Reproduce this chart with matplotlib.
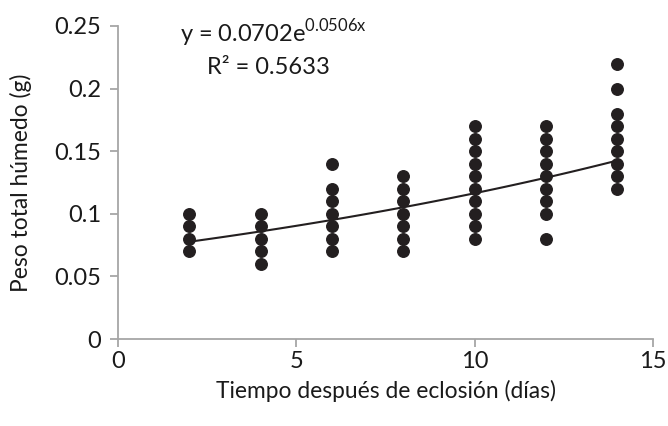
import matplotlib
matplotlib.use("Agg")
import matplotlib.pyplot as plt
import numpy as np

# dias despues de eclosion y peso humedo (g) por dia
dias = [2, 4, 6, 8, 10, 12, 14]
peso = [
    [0.07, 0.08, 0.09, 0.10],
    [0.06, 0.07, 0.08, 0.09, 0.10],
    [0.07, 0.08, 0.09, 0.10, 0.11, 0.12, 0.14],
    [0.07, 0.08, 0.09, 0.10, 0.11, 0.12, 0.13],
    [0.08, 0.09, 0.10, 0.11, 0.12, 0.13, 0.14, 0.15, 0.16, 0.17],
    [0.08, 0.10, 0.11, 0.12, 0.13, 0.14, 0.15, 0.16, 0.17],
    [0.12, 0.13, 0.14, 0.15, 0.16, 0.17, 0.18, 0.20, 0.22],
]
a, b = 0.0702, 0.0506

plt.rcParams['font.family'] = ['Lato', 'DejaVu Sans']
plt.rcParams['mathtext.fontset'] = 'custom'
plt.rcParams['mathtext.rm'] = 'Lato'

fig = plt.figure(figsize=(6.68, 4.26), dpi=100)
ax = fig.add_axes([118/668, 1-339/426, (653-118)/668, (339-26)/426])

for d, vals in zip(dias, peso):
    ax.plot([d]*len(vals), vals, 'o', color='#231f20', markersize=8.3, zorder=3)

xs = np.linspace(min(dias), max(dias), 100)
ax.plot(xs, a*np.exp(b*xs), color='#231f20', linewidth=1.5, zorder=2)

ax.set_xlim(0, 15)
ax.set_ylim(0, 0.25)
ax.set_xticks([0, 5, 10, 15])
ax.set_yticks([0, 0.05, 0.1, 0.15, 0.2, 0.25])
ax.set_yticklabels(['0', '0.05', '0.1', '0.15', '0.2', '0.25'])

for s in ['top', 'right']:
    ax.spines[s].set_visible(False)
for s in ['left', 'bottom']:
    ax.spines[s].set_color('#a6a6a6')
    ax.spines[s].set_linewidth(1.3)
ax.tick_params(colors='#a6a6a6', labelcolor='#1a1a1a', labelsize=17,
               length=6, width=1.3, direction='out')
ax.tick_params(axis='x', pad=3)
ax.tick_params(axis='y', pad=6)

ax.set_xlabel('Tiempo después de eclosión (días)', fontsize=16.4, color='#1a1a1a', labelpad=5)
ax.set_ylabel('Peso total húmedo (g)', fontsize=16.4, color='#1a1a1a', labelpad=16)

ax.text(0.116, 0.978, 'y = 0.0702e$^{\\mathrm{0.0506x}}$', transform=ax.transAxes,
        fontsize=17, color='#1a1a1a', ha='left', va='center')
ax.text(0.282, 0.869, 'R² = 0.5633', transform=ax.transAxes,
        fontsize=17, color='#1a1a1a', ha='center', va='center')

fig.savefig('out.png', dpi=100)
